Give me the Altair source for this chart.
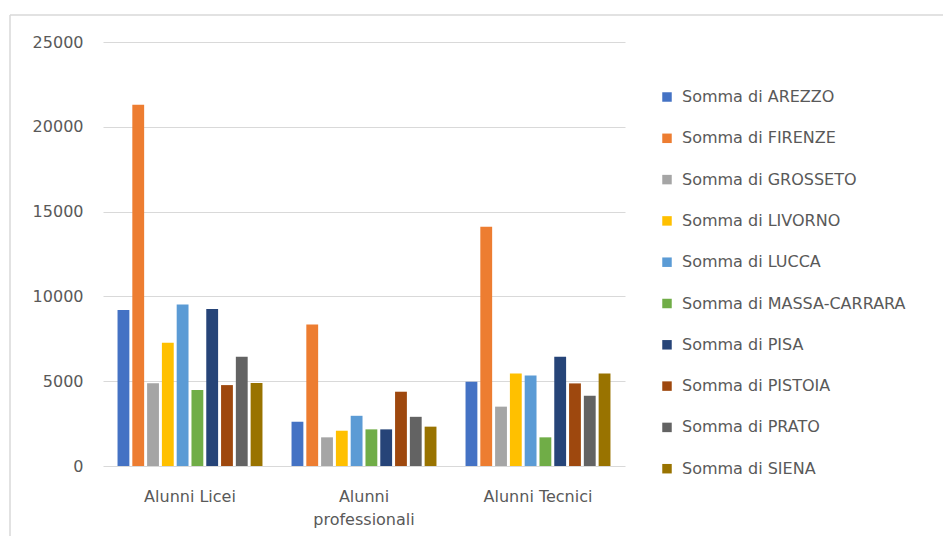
import altair as alt
import pandas as pd

categories = ["Alunni Licei", "Alunni professionali", "Alunni Tecnici"]
series = ["Somma di AREZZO", "Somma di FIRENZE", "Somma di GROSSETO", "Somma di LIVORNO",
          "Somma di LUCCA", "Somma di MASSA-CARRARA", "Somma di PISA", "Somma di PISTOIA",
          "Somma di PRATO", "Somma di SIENA"]
colors = ["#4472C4", "#ED7D31", "#A5A5A5", "#FFC000", "#5B9BD5", "#70AD47",
          "#264478", "#9E480E", "#636363", "#997300"]

licei = [9200, 21300, 4880, 7270, 9520, 4480, 9250, 4770, 6440, 4900]
professionali = [2610, 8350, 1690, 2080, 2960, 2160, 2160, 4380, 2900, 2320]
tecnici = [4970, 14100, 3500, 5460, 5340, 1690, 6440, 4870, 4140, 5460]

rows = []
for cat, vals in zip(categories, [licei, professionali, tecnici]):
    for s, v in zip(series, vals):
        rows.append({"categoria": cat, "serie": s, "valore": v})
df = pd.DataFrame(rows)

FONT = "DejaVu Sans"
TXT = "#595959"

bars = alt.Chart(df).mark_bar().encode(
    x=alt.X("categoria:N", sort=categories, title=None,
            scale=alt.Scale(paddingInner=0.15, paddingOuter=0.075),
            axis=alt.Axis(labelAngle=0, domain=False, ticks=False, labelPadding=22,
                          labelFontSize=16, labelFont=FONT, labelColor=TXT,
                          labelLineHeight=23,
                          labelExpr="datum.value == 'Alunni professionali' ? ['Alunni', 'professionali'] : datum.value")),
    xOffset=alt.XOffset("serie:N", sort=series,
                        scale=alt.Scale(paddingInner=0.2, paddingOuter=0.1)),
    y=alt.Y("valore:Q", title=None,
            scale=alt.Scale(domain=[0, 25000], nice=False),
            axis=alt.Axis(values=[0, 5000, 10000, 15000, 20000, 25000], format="d",
                          domain=False, ticks=False,
                          labelPadding=20, labelFontSize=16, labelFont=FONT, labelColor=TXT,
                          gridColor="#d9d9d9", gridWidth=1.2)),
    color=alt.Color("serie:N", sort=series,
                    scale=alt.Scale(domain=series, range=colors),
                    legend=alt.Legend(title=None, orient="none", legendX=556, legendY=47,
                                      symbolType="square", symbolSize=90, symbolStrokeWidth=0,
                                      labelFontSize=16, labelFont=FONT, labelColor=TXT,
                                      labelLimit=0, labelOffset=7, rowPadding=25.3)),
)

border = alt.Chart(alt.Data(values=[{}])).mark_rule(color="#d9d9d9", strokeWidth=1.5)
top_line = border.encode(x=alt.value(-93), x2=alt.value(849), y=alt.value(-27))
left_line = border.encode(x=alt.value(-93), y=alt.value(-27), y2=alt.value(503))

chart = alt.layer(top_line, left_line, bars).properties(
    width=522, height=424,
    autosize=alt.AutoSizeParams(type="none"),
    padding={"left": 95, "top": 34, "right": 318, "bottom": 70},
).configure_view(stroke=None)

chart.save("out.html", embed_options={"renderer": "svg", "actions": False})
